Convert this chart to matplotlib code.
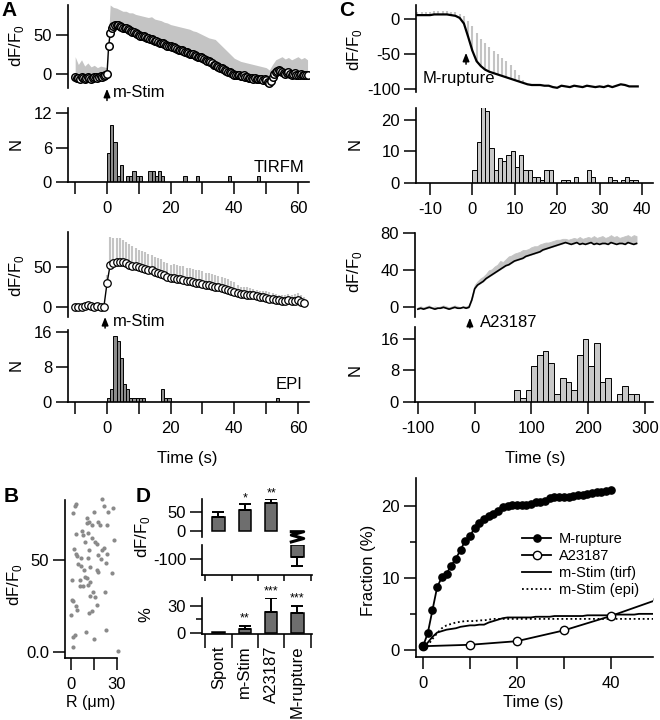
import matplotlib
matplotlib.use("Agg")
import matplotlib.pyplot as plt
import matplotlib.transforms as mtransforms
import numpy as np

# ---- panel A, TIRFM trace (0.5 s sampling from -10 s) ----
a_top_trace = [
    -4, -5, -5, -6, -4, -5, -6, -5, -4, -5, -6, -5, -4, -4, -5, -4, -3, -4, -3, -2,
    0,
    35, 52, 58, 61, 62, 63, 62,
    61, 60, 59, 58, 58, 57, 56, 55, 54, 53, 52, 51, 50,
    49, 49, 48, 47, 46, 46, 45, 44, 43, 42, 42, 41, 40, 39, 39, 38, 37, 36, 36, 35,
    34, 34, 33, 32, 31, 31, 30, 29, 28, 28, 27, 26, 25, 25, 24, 23, 22, 21, 21, 20,
    19, 18, 17, 16, 15, 14, 12, 11, 10, 9,
    8, 7, 6, 5, 4, 3, 2, 1, 0, -1,
    -1, -2, -2, -3, -3, -2, -4, -4, -5, -5,
    -5, -6, -5, -6, -7, -6, -7, -8, -7, -8,
    -10, -12, -9, -4, 0, 2,
    4, 5, 4, 3, 1, 0, 1, 2, 0, -1, 0, 1, -1, -2, -1, 0, -1, -2, -1, -2,
]
# upper edge of the grey band, 1 s sampling from -10 s
a_top_band = [
    22, 12, 18, 10, 14, 9, 11, 8, 10, 9,
    8, 88, 85, 84, 82, 80, 80, 78, 78, 76, 75,
    74, 73, 72, 73, 70, 69, 68, 66, 65, 63,
    62, 61, 60, 59, 58, 57, 55, 54, 52, 50,
    48, 46, 45, 44, 40, 36, 32, 28, 24, 20,
    18, 16, 15, 14, 13, 12, 11, 10, 9, 8,
    5, 12, 18, 20, 22, 19, 21, 18, 20, 22, 19, 21, 18,
]
tirf_counts = [
    5, 10, 7, 1, 3, 0, 1, 1, 2, 1,
    1, 0, 0, 2, 2, 1, 2, 1, 0, 0,
    0, 0, 0, 0, 1, 0, 0, 0, 1, 0,
    0, 0, 0, 0, 0, 0, 0, 0, 1, 0,
    0, 0, 0, 0, 0, 0, 0, 1, 0, 0,
    0, 0, 0, 0, 0, 0, 0, 0, 0, 0, 0,
]

# ---- panel A, EPI trace (1 s sampling from -10 s) ----
epi_trace = [
    0, 1, 1, 2, 3, 2, 1, 2, 1, 0,
    30, 53, 55, 56, 57, 56, 55, 53, 52, 51, 50,
    49, 48, 47, 46, 44, 43, 42, 40, 38, 37,
    37, 36, 35, 34, 33, 33, 32, 31, 30, 29,
    28, 28, 27, 26, 25, 24, 23, 22, 20, 19,
    18, 17, 17, 16, 15, 15, 14, 13, 13, 12,
    11, 10, 9, 9, 8, 8, 9, 8, 8, 9, 7, 6,
]
epi_err = [
    1, 1, 1, 1, 1, 1, 1, 1, 1, 1,
    10, 35, 32, 30, 29, 28, 27, 26, 24, 23, 22,
    21, 21, 20, 19, 19, 18, 18, 17, 17, 16,
    17, 17, 17, 17, 16, 16, 16, 16, 16, 16,
    15, 15, 15, 14, 14, 14, 14, 14, 13, 13,
    10, 9, 9, 9, 9, 8, 8, 8, 8, 8,
    8, 8, 8, 7, 7, 7, 8, 8, 9, 9, 8, 7,
]
epi_counts = [
    1, 3, 15, 14, 10, 4, 3, 1, 1, 1,
    1, 1, 0, 0, 0, 0, 0, 3, 1, 1,
    0, 0, 0, 0, 0, 0, 0, 0, 0, 0,
    0, 0, 0, 0, 0, 0, 0, 0, 0, 0,
    0, 0, 0, 0, 0, 0, 0, 0, 0, 0,
    0, 0, 0, 1, 0, 0, 0, 0, 0, 0, 0,
]

# ---- panel B ----
b_r = [1.3, 2.6, 3.7, 20.6, 21.7, 24.5, 27.4, 15.4, 10.4, 12.1, 13.7, 10.9, 17.6, 19.1,
       23.9, 7.2, 11.5, 3.5, 8.2, 9.3, 15.9, 17.4, 28.2, 2.2, 3.5, 4.3, 6.5, 12.1, 11.5,
       20.2, 21.7, 18.0, 19.8, 23.9, 23.0, 6.5, 8.7, 12.6, 17.0, 18.0, 26.7, 0.7, 6.1,
       9.3, 10.9, 12.6, 11.1, 8.2, 6.1, 14.4, 15.9, 17.0, 22.4, 12.6, 0.7, 1.7, 3.5,
       4.3, 0.0, 12.1, 13.7, 1.7, 2.8, 10.0, 15.2, 23.0, 1.3, 31.0, 5.0, 14.0]
b_df = [75.8, 79.4, 80.3, 83.0, 79.4, 76.3, 78.1, 76.0, 72.7, 70.9, 69.1, 70.3, 70.9,
        69.1, 69.1, 65.8, 64.6, 64.2, 63.6, 60.0, 60.0, 58.8, 60.9, 55.9, 53.3, 52.2,
        51.5, 55.5, 51.5, 55.5, 56.8, 52.8, 50.5, 53.3, 48.3, 46.8, 45.0, 46.4, 45.0,
        43.7, 43.2, 39.2, 39.2, 41.0, 40.2, 38.3, 36.5, 36.0, 36.0, 32.9, 30.2, 26.0,
        32.9, 30.5, 28.4, 28.0, 25.1, 23.0, 20.2, 21.2, 22.4, 8.5, 9.4, 10.9, 7.1, 12.1,
        3.0, 0.9, 48.0, 62.0]

# ---- panel C, M-rupture trace (1 s sampling from -13 s) ----
mr_trace = [
    6, 6, 6, 6, 7, 7, 7, 7, 6,
    5, 2, -6, -25,
    -45, -60, -67, -72, -75, -77, -79, -81, -83, -85,
    -87, -89, -91, -93, -94, -94, -94, -95, -95, -97,
    -98, -95, -96, -97, -95, -96, -97, -95, -96, -97,
    -96, -97, -95, -97, -95, -93, -94, -96, -96, -96,
]
mr_err = [
    4, 4, 5, 5, 5, 5, 5, 5, 5,
    5, 6, 11, 23,
    35, 40, 39, 38, 35, 31, 29, 26, 23, 19,
    15, 9, 4, 1, 0, 0, 0, 0, 0, 0,
    0, 0, 0, 0, 0, 0, 0, 0, 0, 0,
    0, 0, 0, 0, 0, 0, 0, 0, 0, 0,
]
mr_counts = [4, 13, 24, 23, 11, 4, 8, 7, 9, 10,
             5, 9, 4, 4, 2, 2, 1, 4, 4, 0,
             0, 1, 1, 0, 2, 0, 0, 4, 2, 0,
             0, 0, 2, 1, 0, 1, 2, 1, 1, 0]

# ---- panel C, A23187 trace (5 s sampling from -100 s) ----
a23_trace = [
    -2, -1, -2, -1, 0, -1, -2, -1, -1, 0, -1, -2, -1, 0, -1, -1, 0, -1,
    0, 8, 20, 24, 26, 28, 31, 33, 35, 37, 39, 41, 43, 45, 46, 48, 50, 51,
    52, 53, 55, 56, 57, 58, 59, 60, 62, 63, 64, 65, 66, 67, 68, 69, 70, 69,
    68, 69, 70, 68, 69, 68, 69, 70, 68, 69, 68, 69, 69, 68, 70, 69, 68, 69,
    69, 68, 70, 69, 68, 69,
]
a23_hi = [
    0, 1, 0, 1, 2, 0, 1, 0, 1, 2, 1, 0, 1, 2, 1, 0, 1, 1,
    2, 12, 24, 28, 31, 33, 36, 40, 41, 44, 46, 50, 49, 52, 55, 56, 58, 59,
    60, 62, 62, 63, 65, 66, 66, 68, 69, 70, 70, 71, 72, 73, 73, 74, 74, 73,
    74, 75, 74, 76, 74, 75, 76, 75, 77, 75, 76, 77, 75, 76, 78, 76, 77, 75,
    76, 77, 78, 76, 78, 77,
]
a23_counts = [3, 1, 3, 9, 12, 13, 10, 2, 6, 5, 3, 12, 16, 9, 15, 5, 6, 0, 2, 4, 2, 2]

# ---- panel D ----
d_cats = ["Spont", "m-Stim", "A23187", "M-rupture"]
d_amp = [37, 56, 74, -95]
d_amp_err = [13, 15, 11, 24]
d_amp_sig = ["", "*", "**", ""]
d_frac = [1.5, 4.3, 23.5, 21.7]
d_frac_err = [0, 4, 14.5, 8]
d_frac_sig = ["", "**", "***", "***"]

# ---- cumulative fraction panel ----
frac_mr = [0.5, 2.3, 5.5, 8.7, 10.1, 10.6, 11.7, 12.7, 13.9, 15.2, 15.8, 17.0, 17.6,
           18.2, 18.6, 18.9, 19.3, 19.8, 20.0, 20.1, 20.1, 20.1, 20.2, 20.3, 20.5,
           20.5, 20.7, 21.1, 21.2, 21.2, 21.3, 21.3, 21.4, 21.5, 21.6, 21.7, 21.8,
           21.9, 22.0, 22.1, 22.2]
frac_a23_t = [0, 10, 20, 30, 40, 50]
frac_a23 = [0.5, 0.7, 1.2, 2.7, 4.7, 7.0]
frac_tirf = [0.3, 1.0, 1.8, 2.4, 2.6, 2.8, 2.9, 3.0, 3.2, 3.3,
             3.4, 3.4, 3.5, 3.5, 3.8, 4.0, 4.2, 4.4, 4.5, 4.5,
             4.5, 4.5, 4.5, 4.5, 4.6, 4.6, 4.6, 4.6, 4.7, 4.7,
             4.7, 4.7, 4.7, 4.7, 4.7, 4.8, 4.8, 4.8, 4.8, 4.8,
             4.8, 4.9, 4.9, 4.9, 4.9, 4.9, 5.0, 5.0, 5.0, 5.0, 5.0]
frac_epi = [0.2, 0.6, 1.5, 2.3, 3.0, 3.4, 3.6, 3.8, 3.9, 4.0,
            4.0, 4.0, 4.1, 4.1, 4.2, 4.3, 4.3, 4.3, 4.3, 4.3,
            4.3, 4.3, 4.3, 4.3, 4.3, 4.3, 4.3, 4.3, 4.3, 4.3,
            4.3, 4.3, 4.3, 4.3, 4.3, 4.3, 4.3, 4.3, 4.3, 4.3,
            4.3, 4.3, 4.3, 4.3, 4.3, 4.3, 4.3, 4.3, 4.3, 4.3, 4.3]

DFF = r"dF/F$_\mathregular{0}$"
GREY_BAND = "#c4c4c4"

plt.rcParams.update({
    "font.family": ["Liberation Sans", "DejaVu Sans"],
    "font.size": 12,
    "axes.unicode_minus": False,
    "axes.linewidth": 1.2,
    "xtick.major.size": 8.5,
    "ytick.major.size": 8.5,
    "xtick.minor.size": 8.5,
    "ytick.minor.size": 4.5,
    "xtick.major.width": 1.1,
    "ytick.major.width": 1.1,
    "xtick.minor.width": 1.1,
    "ytick.minor.width": 1.1,
    "xtick.major.pad": 5,
    "ytick.major.pad": 3,
    "xtick.labelsize": 12,
    "ytick.labelsize": 12,
})

W, H = 660, 720
fig = plt.figure(figsize=(W / 100, H / 100), dpi=100)


def add_box(left, top, right, bottom):
    ax = fig.add_axes([left / W, 1 - bottom / H, (right - left) / W, (bottom - top) / H])
    ax.spines[["top", "right"]].set_visible(False)
    ax.patch.set_alpha(0)
    return ax


def ftext(x, y, s, **kw):
    kw.setdefault("ha", "center")
    kw.setdefault("va", "center")
    fig.text(x / W, 1 - y / H, s, **kw)


def no_xaxis(ax):
    ax.spines["bottom"].set_visible(False)
    ax.set_xticks([])


def stim_arrow(ax, x, y_tail, y_tip, label, lx, ly):
    tr = mtransforms.blended_transform_factory(ax.transData, ax.transAxes)
    ax.annotate("", xy=(x, y_tip), xytext=(x, y_tail), xycoords=tr, textcoords=tr,
                arrowprops=dict(arrowstyle="-|>,head_length=0.7,head_width=0.28",
                                mutation_scale=7, color="k", lw=1.1,
                                shrinkA=0, shrinkB=0),
                annotation_clip=False)
    ax.text(lx, ly, label, transform=tr, ha="left", va="center", fontsize=12)


def hist(ax, starts, counts, width, color):
    ax.bar(starts, counts, width=width, align="edge", color=color, edgecolor="k", lw=0.7)


# ================= panel A =================
a_top_t = -10 + 0.5 * np.arange(len(a_top_trace))
band_t = -10 + np.arange(len(a_top_band))
a_xlim = (-12.25, 63.46)

ax = add_box(68, 5, 309, 88)
no_xaxis(ax)
ax.fill_between(band_t, np.array(a_top_trace)[::2], a_top_band, color=GREY_BAND, lw=0)
ax.plot(a_top_t, a_top_trace, "o-", color="k", mfc="white", mec="k", ms=5.4, mew=1.1, lw=1)
ax.set_xlim(*a_xlim)
ax.set_ylim(-18, 88)
ax.set_yticks([0, 50])
stim_arrow(ax, 0, -0.15, -0.01, "m-Stim", 1.8, -0.06)

ax = add_box(68, 108, 309, 182)
hist(ax, np.arange(len(tirf_counts)), tirf_counts, 1, "#8c8c8c")
ax.set_xlim(*a_xlim)
ax.set_ylim(0, 12.9)
ax.set_yticks([0, 6, 12])
ax.set_xticks([0, 20, 40, 60])
ax.set_xticks([-10, 10, 30, 50], minor=True)
ax.text(62, 2.6, "TIRFM", ha="right", va="center")

epi_t = -10 + np.arange(len(epi_trace))
ax = add_box(68, 232, 309, 317)
no_xaxis(ax)
ax.vlines(epi_t, epi_trace, np.array(epi_trace) + np.array(epi_err), color=GREY_BAND, lw=1.5)
ax.plot(epi_t, epi_trace, "o-", color="k", mfc="white", mec="k", ms=5.4, mew=0.9, lw=1)
ax.set_xlim(*a_xlim)
ax.set_ylim(-12, 94)
ax.set_yticks([0, 50])
stim_arrow(ax, -0.6, -0.13, -0.0, "m-Stim", 1.8, -0.05)

ax = add_box(68, 330, 309, 402)
hist(ax, np.arange(len(epi_counts)), epi_counts, 1, "#8c8c8c")
ax.set_xlim(*a_xlim)
ax.set_ylim(0, 16.4)
ax.set_yticks([0, 8, 16])
ax.set_xticks([0, 20, 40, 60])
ax.set_xticks([-10, 10, 30, 50], minor=True)
ax.text(61.5, 3.9, "EPI", ha="right", va="center")

ftext(16, 46, DFF, rotation=90)
ftext(16, 144, "N", rotation=90)
ftext(16, 276, DFF, rotation=90)
ftext(16, 365, "N", rotation=90)
ftext(187, 458, "Time (s)")

# ================= panel B =================
ax = add_box(65, 500, 117, 658)
ax.scatter(b_r, b_df, s=9, color="#8a8a8a", lw=0, clip_on=False)
ax.set_xlim(-3.7, 30.2)
ax.set_ylim(-3, 82.7)
ax.set_yticks([0, 50], ["0.0", "50"])
ax.set_xticks([0, 30])
ax.set_xticks([15], minor=True)
ftext(15, 585, DFF, rotation=90)
ftext(91, 703, "R (\u03bcm)", fontsize=11.5)

# ================= panel D =================
d_x = np.arange(len(d_cats))
bar_w = 0.47
d_xlim = (-0.62, 3.55)
brk = -62.5
dark = "#6e6e6e"

ax_hi = add_box(202, 499, 312, 537)
no_xaxis(ax_hi)
ax_lo = add_box(202, 545, 312, 575)
for x, v, e, s in zip(d_x, d_amp, d_amp_err, d_amp_sig):
    if v > 0:
        ax_hi.bar(x, v, width=bar_w, color=dark, edgecolor="k", lw=1.1)
        ax_hi.errorbar(x, v, yerr=[[0], [e]], color="k", lw=1.4, capsize=4, capthick=1.4)
        if s:
            ax_hi.annotate(s, (x, v + e), xytext=(0, 0), textcoords="offset points",
                           ha="center", va="bottom", fontsize=9, annotation_clip=False)
    else:
        ax_lo.bar(x, v - brk, bottom=brk, width=bar_w, color=dark, edgecolor="k", lw=1.1)
        ax_lo.errorbar(x, v, yerr=[[e], [0]], color="k", lw=1.4, capsize=4, capthick=1.4)
        hw = bar_w / 2
        ax_hi.plot([x - hw, x + hw, x - hw, x + hw, x - hw],
                   [-1, -1, -10, -19, -28], color="k", lw=2.2, clip_on=False)
ax_hi.set_xlim(*d_xlim)
ax_hi.set_ylim(-15, 85)
ax_hi.set_yticks([0, 50])
ax_lo.set_xlim(*d_xlim)
ax_lo.set_ylim(-143, brk)
ax_lo.set_yticks([-100])
ax_lo.set_xticks(d_x[:-1] + 0.5)
ax_lo.set_xticks([-0.5, 3.5], minor=True)
ax_lo.tick_params(axis="x", which="both", length=4, labelbottom=False)

ax = add_box(202, 598, 312, 634)
for x, v, e, s in zip(d_x, d_frac, d_frac_err, d_frac_sig):
    ax.bar(x, v, width=bar_w, color="k" if x == 0 else dark, edgecolor="k", lw=1.1)
    if e:
        ax.errorbar(x, v, yerr=[[0], [e]], color="k", lw=1.4, capsize=4, capthick=1.4)
    if s:
        ax.annotate(s, (x, v + e), xytext=(0, 1), textcoords="offset points",
                    ha="center", va="bottom", fontsize=9, annotation_clip=False)
ax.set_xlim(*d_xlim)
ax.set_ylim(-0.8, 38.4)
ax.set_yticks([0, 30])
ax.set_yticks([15], minor=True)
ax.set_xticks(np.arange(len(d_cats) + 1) - 0.5)
ax.tick_params(axis="x", which="major", length=10, labelbottom=False)
ax.set_xticks(d_x, d_cats, minor=True, rotation=90)
ax.tick_params(axis="x", which="minor", length=0, pad=8)
for lab in ax.get_xticklabels(minor=True):
    lab.set_va("top")

ftext(143, 537, DFF, rotation=90)
ftext(146, 615, "%", rotation=90)

# ================= panel C =================
mr_t = -13 + np.arange(len(mr_trace))
c_xlim = (-13.3, 42.6)
ax = add_box(416, 5, 653, 92)
no_xaxis(ax)
ax.vlines(mr_t, mr_trace, np.array(mr_trace) + np.array(mr_err), color=GREY_BAND, lw=1.5)
ax.plot(mr_t, mr_trace, color="k", lw=1.6)
ax.set_xlim(*c_xlim)
ax.set_ylim(-104, 20.5)
ax.set_yticks([-100, -50, 0])
stim_arrow(ax, -1.5, 0.32, 0.45, "M-rupture", -11.7, 0.15)

ax = add_box(416, 108, 653, 183)
hist(ax, np.arange(len(mr_counts)), mr_counts, 1, "#c8c8c8")
ax.set_xlim(*c_xlim)
ax.set_ylim(0, 23.8)
ax.set_yticks([0, 10, 20])
ax.set_xticks([-10, 0, 10, 20, 30, 40])

a23_t = -100 + 5 * np.arange(len(a23_trace))
c2_xlim = (-105, 314)
ax = add_box(415, 233, 653, 317)
no_xaxis(ax)
ax.fill_between(a23_t, a23_trace, a23_hi, color=GREY_BAND, lw=0.6, edgecolor=GREY_BAND)
ax.plot(a23_t, a23_trace, color="k", lw=1.2)
ax.set_xlim(*c2_xlim)
ax.set_ylim(-10.5, 80.3)
ax.set_yticks([0, 40, 80])
stim_arrow(ax, -8.4, -0.13, -0.01, "A23187", 9, -0.06)

ax = add_box(415, 327, 653, 402)
hist(ax, 70 + 10 * np.arange(len(a23_counts)), a23_counts, 10, "#c8c8c8")
ax.set_xlim(*c2_xlim)
ax.set_ylim(0, 19)
ax.set_yticks([0, 8, 16])
ax.set_xticks([-100, 0, 100, 200, 300])

ftext(355, 50, DFF, rotation=90)
ftext(355, 144, "N", rotation=90)
ftext(355, 272, DFF, rotation=90)
ftext(355, 370, "N", rotation=90)
ftext(535, 459, "Time (s)")

# ================= cumulative fraction =================
ax = add_box(416, 478, 653, 657)
grid_t = np.arange(len(frac_tirf))
ax.plot(grid_t, frac_tirf, color="k", lw=1.3, label="m-Stim (tirf)")
ax.plot(grid_t, frac_epi, color="k", lw=1.3, ls=(0, (1, 1.5)), label="m-Stim (epi)")
ax.plot(frac_a23_t, frac_a23, "o-", color="k", mfc="white", mec="k", ms=6, mew=1,
        lw=1.3, label="A23187")
ax.plot(np.arange(len(frac_mr)), frac_mr, "o-", color="k", ms=5.2, lw=1.3,
        label="M-rupture")
ax.set_xlim(-1.5, 49)
ax.set_ylim(-1, 23.9)
ax.set_xticks([0, 20, 40])
ax.set_xticks([10, 30], minor=True)
ax.set_yticks([0, 10, 20])
ax.set_yticks([5, 15], minor=True)
handles, labels = ax.get_legend_handles_labels()
order = [3, 2, 0, 1]
ax.legend([handles[i] for i in order], [labels[i] for i in order],
          loc="upper left", bbox_to_anchor=(515 / W, 1 - 525 / H),
          bbox_transform=fig.transFigure, frameon=False, fontsize=10.5,
          handlelength=2.0, handletextpad=0.5, labelspacing=0.2, borderpad=0)
ftext(368, 570, "Fraction (%)", rotation=90)
ftext(533, 702, "Time (s)")

# panel letters
for x, y, s in [(9, 10, "A"), (11, 497, "B"), (347, 10, "C"), (143, 497, "D")]:
    ftext(x, y, s, fontsize=15, fontweight="bold")

fig.savefig("out.png", dpi=100)
